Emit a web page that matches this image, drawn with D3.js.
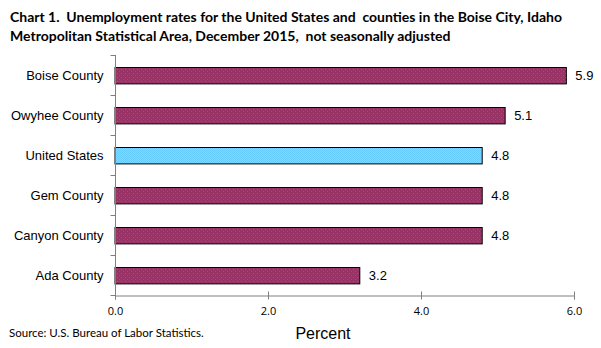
<!DOCTYPE html>
<html>
<head>
<meta charset="utf-8">
<script src="https://cdn.jsdelivr.net/npm/d3@7"></script>
<style>
  body { margin: 0; background: #fff; }
  svg { display: block; }
</style>
</head>
<body>
<div id="chart"></div>
<script>
// data, top to bottom as drawn
const categories = ['Boise County', 'Owyhee County', 'United States', 'Gem County', 'Canyon County', 'Ada County'];
const rates = [5.9, 5.1, 4.8, 4.8, 4.8, 3.2];
const xTicks = [0, 2, 4, 6];
const titleLines = [
  'Chart 1.  Unemployment rates for the United States and  counties in the Boise City, Idaho',
  'Metropolitan Statistical Area, December 2015,  not seasonally adjusted'
];

const width = 601, height = 348;
const margin = { top: 55, right: 27, bottom: 53, left: 115 };

const svg = d3.select('#chart').append('svg')
  .attr('width', width)
  .attr('height', height);

// dotted fills like the original
const defs = svg.append('defs');
const pat1 = defs.append('pattern').attr('id', 'maroon').attr('width', 4).attr('height', 4).attr('patternUnits', 'userSpaceOnUse');
pat1.append('rect').attr('width', 4).attr('height', 4).attr('fill', '#993366');
pat1.append('rect').attr('x', 1).attr('y', 1).attr('width', 1).attr('height', 1).attr('fill', '#b0507a');
pat1.append('rect').attr('x', 3).attr('y', 3).attr('width', 1).attr('height', 1).attr('fill', '#a84a6e');
const pat2 = defs.append('pattern').attr('id', 'blue').attr('width', 2).attr('height', 2).attr('patternUnits', 'userSpaceOnUse');
pat2.append('rect').attr('width', 2).attr('height', 2).attr('fill', '#99ccff');
pat2.append('rect').attr('width', 1).attr('height', 1).attr('fill', '#66ccff');
pat2.append('rect').attr('x', 1).attr('y', 1).attr('width', 1).attr('height', 1).attr('fill', '#66ccff');

// title
svg.append('g').selectAll('text')
  .data(titleLines)
  .enter().append('text')
  .attr('x', 10)
  .attr('y', (d, i) => 22 + i * 19)
  .style('font-family', 'Lato, "Open Sans", sans-serif')
  .style('font-weight', 'bold')
  .style('font-size', '14px')
  .style('white-space', 'pre')
  .attr('fill', '#000')
  .text(d => d);

const g = svg.append('g');

const x = d3.scaleLinear()
  .domain([0, 6])
  .range([margin.left, width - margin.right]);

const y = d3.scaleBand()
  .domain(categories)
  .range([margin.top, height - margin.bottom])
  .paddingInner(0.59)
  .paddingOuter(0.295);

// bars
g.selectAll('.bar')
  .data(categories)
  .enter().append('rect')
  .attr('class', 'bar')
  .attr('x', x(0))
  .attr('y', d => Math.round(y(d)) + 0.5)
  .attr('width', (d, i) => x(rates[i]) - x(0))
  .attr('height', y.bandwidth())
  .attr('fill', d => d === 'United States' ? 'url(#blue)' : 'url(#maroon)')
  .attr('stroke', '#000')
  .attr('stroke-width', 1);

// value labels
g.selectAll('.val')
  .data(categories)
  .enter().append('text')
  .attr('class', 'val')
  .attr('x', (d, i) => x(rates[i]) + 9)
  .attr('y', d => y(d) + y.bandwidth() / 2 + 5)
  .style('font-family', '"Liberation Sans", Arial, sans-serif')
  .style('font-size', '13px')
  .attr('fill', '#000')
  .text((d, i) => rates[i].toFixed(1));

// y axis: line plus ticks at band boundaries
const yAxis = g.append('g').attr('transform', `translate(${x(0) + 0.5},0)`);
yAxis.append('line')
  .attr('y1', margin.top).attr('y2', height - margin.bottom)
  .attr('stroke', '#808080');
const step = y.step();
yAxis.selectAll('.ytick')
  .data(d3.range(categories.length + 1))
  .enter().append('line')
  .attr('x1', -5).attr('x2', 0)
  .attr('y1', i => Math.round(margin.top + i * step) + 0.5)
  .attr('y2', i => Math.round(margin.top + i * step) + 0.5)
  .attr('stroke', '#808080');
yAxis.selectAll('.ylab')
  .data(categories)
  .enter().append('text')
  .attr('x', -12)
  .attr('y', d => y(d) + y.bandwidth() / 2 + 5)
  .attr('text-anchor', 'end')
  .style('font-family', '"Liberation Sans", Arial, sans-serif')
  .style('font-size', '13px')
  .attr('fill', '#000')
  .text(d => d);

// x axis
const xAxis = g.append('g')
  .attr('transform', `translate(0,${height - margin.bottom + 0.5})`)
  .call(d3.axisBottom(x).tickValues(xTicks).tickFormat(d3.format('.1f')).tickSizeOuter(0).tickSize(4));
xAxis.select('.domain').attr('stroke', '#808080');
xAxis.selectAll('.tick line').attr('stroke', '#808080').attr('y1', -4).attr('y2', 4);
xAxis.selectAll('.tick text')
  .attr('y', 12)
  .style('font-family', '"Open Sans", sans-serif')
  .style('font-size', '11px')
  .attr('fill', '#000');

// axis title
svg.append('text')
  .attr('x', 323)
  .attr('y', 339)
  .attr('text-anchor', 'middle')
  .style('font-family', '"Liberation Sans", Arial, sans-serif')
  .style('font-size', '16px')
  .attr('fill', '#000')
  .text('Percent');

// source note
svg.append('text')
  .attr('x', 9)
  .attr('y', 337)
  .style('font-family', 'Lato, "Open Sans", sans-serif')
  .style('font-size', '11.5px')
  .attr('fill', '#000')
  .text('Source: U.S. Bureau of Labor Statistics.');
</script>
</body>
</html>
